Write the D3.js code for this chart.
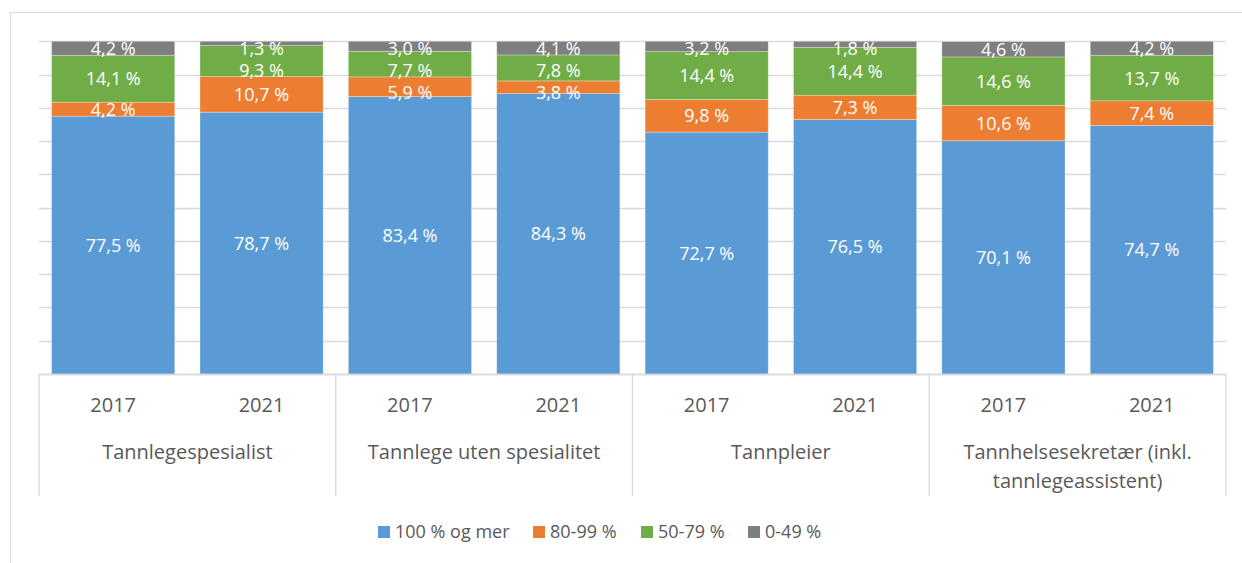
<!DOCTYPE html>
<html>
<head>
<meta charset="utf-8">
<script src="https://cdn.jsdelivr.net/npm/d3@7"></script>
<style>
  body { margin: 0; background: #fff; }
  svg { font-family: "Open Sans", sans-serif; }
</style>
</head>
<body>
<svg id="chart" width="1242" height="563"></svg>
<script>
// data
var groups = ["Tannlegespesialist", "Tannlege uten spesialitet", "Tannpleier", "Tannhelsesekretær (inkl. tannlegeassistent)"];
var years = ["2017", "2021"];
var seriesNames = ["100 % og mer", "80-99 %", "50-79 %", "0-49 %"];
var full = [77.5, 78.7, 83.4, 84.3, 72.7, 76.5, 70.1, 74.7];
var high = [4.2, 10.7, 5.9, 3.8, 9.8, 7.3, 10.6, 7.4];
var mid = [14.1, 9.3, 7.7, 7.8, 14.4, 14.4, 14.6, 13.7];
var low = [4.2, 1.3, 3.0, 4.1, 3.2, 1.8, 4.6, 4.2];
var colors = ["#5B9BD5", "#ED7D31", "#70AD47", "#7F7F7F"];

var rows = [];
groups.forEach(function(g, gi) {
    years.forEach(function(yr, yi) {
        var i = gi * 2 + yi;
        rows.push({ key: g + "|" + yr, group: g, year: yr, s0: full[i], s1: high[i], s2: mid[i], s3: low[i] });
    });
});

var svg = d3.select("#chart");

// chart border
svg.append("rect")
    .attr("x", 10.5).attr("y", 12.5)
    .attr("width", 1260).attr("height", 600)
    .attr("fill", "none")
    .attr("stroke", "#d9d9d9");

var plotLeft = 39, plotRight = 1226, plotTop = 41.3, plotBottom = 374;

var x = d3.scaleBand()
    .domain(rows.map(function(d) { return d.key; }))
    .range([plotLeft, plotRight])
    .paddingInner(0.17)
    .paddingOuter(0.085);

var y = d3.scaleLinear().domain([0, 100]).range([plotBottom, plotTop]);

// gridlines
svg.append("g")
    .selectAll("line")
    .data(y.ticks(10))
    .enter()
    .append("line")
    .attr("x1", plotLeft).attr("x2", plotRight)
    .attr("y1", function(d) { return Math.round(y(d)) + 0.5; })
    .attr("y2", function(d) { return Math.round(y(d)) + 0.5; })
    .attr("stroke", "#d9d9d9")
    .attr("stroke-width", 1.3);

var stack = d3.stack().keys(["s0", "s1", "s2", "s3"]);
var layers = stack(rows);

svg.append("g")
    .selectAll("g")
    .data(layers)
    .enter()
    .append("g")
    .attr("fill", function(d, i) { return colors[i]; })
    .selectAll("rect")
    .data(function(d) { return d; })
    .enter()
    .append("rect")
    .attr("x", function(d) { return x(d.data.key); })
    .attr("width", x.bandwidth())
    .attr("y", function(d) { return y(Math.min(d[1], 100)); })
    .attr("height", function(d) { return y(d[0]) - y(Math.min(d[1], 100)); })
    .attr("stroke", "#ffffff")
    .attr("stroke-opacity", 0.35)
    .attr("stroke-width", 0.8);

// data labels, pushed down so they do not overlap
var fmt = function(v) { return v.toFixed(1).replace(".", ",") + " %"; };
var labels = svg.append("g")
    .attr("fill", "#ffffff")
    .attr("font-size", "18px")
    .attr("text-anchor", "middle");

rows.forEach(function(r, ri) {
    var pos = [];
    var prev = null;
    for (var k = 3; k >= 0; k--) {
        var seg = layers[k][ri];
        var cy = (y(Math.min(seg[1], 100)) + y(seg[0])) / 2;
        cy = Math.max(cy, plotTop + 7.5);
        if (prev !== null && cy < prev + 22) cy = prev + 22;
        prev = cy;
        pos[k] = cy;
    }
    for (var k = 0; k < 4; k++) {
        var seg = layers[k][ri];
        labels.append("text")
            .attr("x", x(r.key) + x.bandwidth() / 2)
            .attr("y", pos[k])
            .attr("dy", "0.36em")
            .text(fmt(seg[1] - seg[0]));
    }
});

// category axis
var axis = svg.append("g").attr("fill", "#595959");

var groupW = (plotRight - plotLeft) / groups.length;
d3.range(groups.length + 1).forEach(function(i) {
    axis.append("line")
        .attr("x1", plotLeft + i * groupW).attr("x2", plotLeft + i * groupW)
        .attr("y1", plotBottom).attr("y2", 496)
        .attr("stroke", "#d9d9d9")
        .attr("stroke-width", 1.3);
});
axis.append("line")
    .attr("x1", plotLeft).attr("x2", plotRight)
    .attr("y1", plotBottom + 0.5).attr("y2", plotBottom + 0.5)
    .attr("stroke", "#d9d9d9")
    .attr("stroke-width", 1.3);

axis.selectAll(".year")
    .data(rows)
    .enter()
    .append("text")
    .attr("class", "year")
    .attr("x", function(d) { return x(d.key) + x.bandwidth() / 2; })
    .attr("y", 405)
    .attr("dy", "0.36em")
    .attr("text-anchor", "middle")
    .attr("font-size", "20px")
    .text(function(d) { return d.year; });

var groupLines = {
    "Tannhelsesekretær (inkl. tannlegeassistent)": ["Tannhelsesekretær (inkl.", "tannlegeassistent)"]
};
groups.forEach(function(g, gi) {
    var lines = groupLines[g] || [g];
    lines.forEach(function(t, li) {
        axis.append("text")
            .attr("x", plotLeft + (gi + 0.5) * groupW)
            .attr("y", 452 + li * 29)
            .attr("dy", "0.36em")
            .attr("text-anchor", "middle")
            .attr("font-size", "20px")
            .text(t);
    });
});

// legend
var legendX = [378, 533, 641, 748];
var legend = svg.append("g");
seriesNames.forEach(function(s, i) {
    legend.append("rect")
        .attr("x", legendX[i]).attr("y", 526)
        .attr("width", 12).attr("height", 12)
        .attr("fill", colors[i]);
    legend.append("text")
        .attr("x", legendX[i] + 17)
        .attr("y", 532)
        .attr("dy", "0.36em")
        .attr("fill", "#595959")
        .attr("font-size", "18px")
        .text(s);
});
</script>
</body>
</html>
